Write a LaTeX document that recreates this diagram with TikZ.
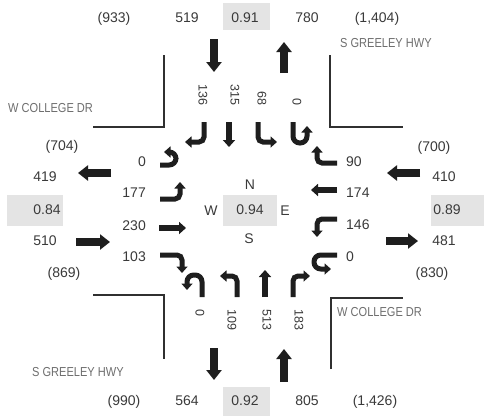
\documentclass[tikz,border=0pt]{standalone}
\usepackage{fontspec}
\setmainfont{Liberation Sans}
\newfontfamily\narrowfont[FakeStretch=0.85]{Liberation Sans}
\usetikzlibrary{arrows.meta}
\definecolor{txt}{HTML}{3A3A3A}
\definecolor{street}{HTML}{6E6E6E}
\definecolor{boxgray}{HTML}{E4E4E4}
\definecolor{arr}{HTML}{1E1E1E}
\definecolor{curb}{HTML}{303030}
\begin{document}
\begin{tikzpicture}[x=1pt,y=-1pt,
  num/.style={font=\fontsize{14}{14}\selectfont, text=txt, inner sep=0pt, text height=10pt, text depth=0pt},
  rnum/.style={font=\fontsize{12.5}{12.5}\selectfont, text=txt, inner sep=0pt, text height=9pt, text depth=0pt, rotate=-90},
  streetname/.style={font=\narrowfont\fontsize{13}{13}\selectfont, text=street, inner sep=0pt, text height=9.3pt, text depth=0pt, anchor=west},
  valbox/.style={fill=boxgray, draw=none},
  bigarrow/.style={draw=arr, line width=7.5pt, -{Triangle[width=15pt,length=10pt]}},
  turnarrow/.style={draw=arr, line width=5pt, rounded corners=5pt, -{Triangle[width=11pt,length=6.5pt]}},
  thruarrow/.style={draw=arr, line width=6pt, -{Triangle[width=12pt,length=7pt]}},
  uturn/.style={draw=arr, line width=5pt, rounded corners=6.8pt, -{Triangle[width=11pt,length=6.5pt]}},
  curbline/.style={draw=curb, line width=1.8pt}]
\useasboundingbox (0,0) rectangle (484,416);
\fill[white] (0,0) rectangle (484,416);

% value boxes
\fill[valbox] (223,3) rectangle (270,30);
\fill[valbox] (223,387) rectangle (270,416);
\fill[valbox] (7,195) rectangle (63,226);
\fill[valbox] (431,195) rectangle (484,226);
\fill[valbox] (223,195) rectangle (277,226);

% curb lines
\draw[curbline] (93,127) -- (164,127) -- (164,55);
\draw[curbline] (330,55) -- (330,127) -- (403,127);
\draw[curbline] (93,295) -- (164,295) -- (164,359);
\draw[curbline] (331,369) -- (331,298) -- (403,298);

% street names
\node[streetname] (wcollegeN) at (8,108) {W COLLEGE DR};
\node[streetname] (sgreeleyN) at (340,43) {S GREELEY HWY};
\node[streetname] (wcollegeS) at (337,312) {W COLLEGE DR};
\node[streetname] (sgreeleyS) at (32,372) {S GREELEY HWY};

% top row
\node[num] (t1) at (114,17) {(933)};
\node[num] (t2) at (187,17) {519};
\node[num] (t3) at (245,17) {0.91};
\node[num] (t4) at (307,17) {780};
\node[num] (t5) at (377,17) {(1,404)};
% bottom row
\node[num] (b1) at (124,400) {(990)};
\node[num] (b2) at (187,400) {564};
\node[num] (b3) at (245,400) {0.92};
\node[num] (b4) at (307,400) {805};
\node[num] (b5) at (375,400) {(1,426)};
% left column
\node[num] (l1) at (62,145) {(704)};
\node[num] (l2) at (45,176) {419};
\node[num] (l3) at (47,209) {0.84};
\node[num] (l4) at (45,240) {510};
\node[num] (l5) at (64,272) {(869)};
% right column
\node[num] (r1) at (434,146) {(700)};
\node[num] (r2) at (444,176) {410};
\node[num] (r3) at (447,209) {0.89};
\node[num] (r4) at (444,240) {481};
\node[num] (r5) at (432,272) {(830)};
% centre
\node[num] (cN) at (250,184) {N};
\node[num] (cW) at (211,210) {W};
\node[num] (cV) at (250,209) {0.94};
\node[num] (cE) at (285,210) {E};
\node[num] (cS) at (249,238) {S};

% approach volumes, west side
\node[num, anchor=east] (eb1) at (146,161) {0};
\node[num, anchor=east] (eb2) at (146,192) {177};
\node[num, anchor=east] (eb3) at (146,225) {230};
\node[num, anchor=east] (eb4) at (146,256) {103};
% east side
\node[num, anchor=west] (wb1) at (346,161) {90};
\node[num, anchor=west] (wb2) at (346,192) {174};
\node[num, anchor=west] (wb3) at (346,224) {146};
\node[num, anchor=west] (wb4) at (346,256) {0};
% north side (rotated)
\node[rnum, anchor=east] (sb1) at (203,106) {136};
\node[rnum, anchor=east] (sb2) at (235,106) {315};
\node[rnum, anchor=east] (sb3) at (262,106) {68};
\node[rnum, anchor=east] (sb4) at (297,106) {0};
% south side (rotated)
\node[rnum, anchor=west] (nb1) at (200,309) {0};
\node[rnum, anchor=west] (nb2) at (232,309) {109};
\node[rnum, anchor=west] (nb3) at (267,309) {513};
\node[rnum, anchor=west] (nb4) at (299,309) {183};

% big arrows
\draw[bigarrow] (214,39) -- (214,72);
\draw[bigarrow] (284,73) -- (284,42);
\draw[bigarrow] (111,173) -- (78,173);
\draw[bigarrow] (76,242) -- (110,242);
\draw[bigarrow] (420,173) -- (387,173);
\draw[bigarrow] (386,241) -- (418,241);
\draw[bigarrow] (214,348) -- (214,380);
\draw[bigarrow] (284,382) -- (284,349);

% southbound movements
\draw[turnarrow] (204,122) -- (204,142) -- (185,142);
\draw[thruarrow] (229,122) -- (229,147);
\draw[turnarrow] (258,122) -- (258,142) -- (277,142);
\draw[uturn] (293,122) -- (293,143) -- (307,143) -- (307,126);
% eastbound movements
\draw[uturn] (160,165) -- (176,165) -- (176,152) -- (164,152);
\draw[turnarrow] (160,199) -- (180,199) -- (180,182);
\draw[thruarrow] (159,228) -- (186,228);
\draw[turnarrow] (160,255) -- (182,255) -- (182,273);
% westbound movements
\draw[turnarrow] (337,163) -- (317,163) -- (317,146);
\draw[thruarrow] (337,190) -- (311,190);
\draw[turnarrow] (337,219) -- (317,219) -- (317,237);
\draw[uturn] (337,255) -- (314,255) -- (314,269) -- (331,269);
% northbound movements
\draw[uturn] (202,297) -- (202,275) -- (187,275) -- (187,290);
\draw[turnarrow] (237,297) -- (237,276) -- (220,276);
\draw[thruarrow] (265,297) -- (265,270);
\draw[turnarrow] (293,297) -- (293,276) -- (310,276);
\end{tikzpicture}
\end{document}
